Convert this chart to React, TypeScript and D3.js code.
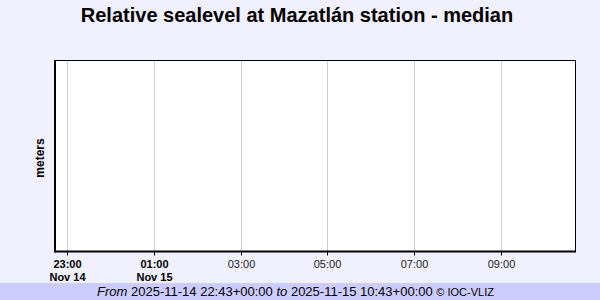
import React from "react";
import * as d3 from "d3";

const title = "Relative sealevel at Mazatlán station - median";
const yLabel = "meters";
const domainStart = "2025-11-14T22:43:00Z";
const domainEnd = "2025-11-15T10:43:00Z";
const tickTimes = [
  "2025-11-14T23:00:00Z",
  "2025-11-15T01:00:00Z",
  "2025-11-15T03:00:00Z",
  "2025-11-15T05:00:00Z",
  "2025-11-15T07:00:00Z",
  "2025-11-15T09:00:00Z",
];
const tickLabels = ["23:00", "01:00", "03:00", "05:00", "07:00", "09:00"];
const tickDates = ["Nov 14", "Nov 15", "", "", "", ""];
const footerFrom = "2025-11-14 22:43+00:00";
const footerTo = "2025-11-15 10:43+00:00";
const credit = "© IOC-VLIZ";

export default function App() {
  const W = 600, H = 300;
  const left = 55, right = 575, top = 60, bottom = 251.5;
  const x = d3
    .scaleUtc()
    .domain([new Date(domainStart), new Date(domainEnd)])
    .range([left, right]);
  const font = "'Liberation Sans', Arial, sans-serif";
  return (
    <svg
      width={W}
      height={H}
      style={{ position: "absolute", left: 0, top: 0, display: "block" }}
      fontFamily={font}
    >
      <rect x={0} y={0} width={W} height={H} fill="#f0f0ff" />
      <text x={297} y={22} textAnchor="middle" fontSize={20} fontWeight="bold" fill="#000">
        {title}
      </text>
      <rect x={left} y={top} width={right - left} height={bottom - top} fill="#fff" />
      {tickTimes.map((t, i) => {
        const px = Math.round(x(new Date(t))) + 0.5;
        return (
          <g key={t}>
            <line x1={px} x2={px} y1={top} y2={bottom} stroke="#cccccc" strokeWidth={1} />
            <line x1={px} x2={px} y1={bottom} y2={bottom + 4} stroke="#000" strokeWidth={1} />
            <text
              x={px}
              y={268}
              textAnchor="middle"
              fontSize={11}
              fontWeight={tickDates[i] ? "bold" : "normal"}
              fill={tickDates[i] ? "#000" : "#222"}
            >
              {tickLabels[i]}
            </text>
            {tickDates[i] && (
              <text x={px} y={281} textAnchor="middle" fontSize={11} fontWeight="bold" fill="#000">
                {tickDates[i]}
              </text>
            )}
          </g>
        );
      })}
      <line x1={left} x2={right} y1={top + 0.5} y2={top + 0.5} stroke="#000" strokeWidth={1} />
      <line x1={right + 0.5} x2={right + 0.5} y1={top} y2={bottom} stroke="#000" strokeWidth={1} />
      <line x1={left} x2={left} y1={top} y2={bottom + 1} stroke="#000" strokeWidth={2} />
      <line x1={left} x2={right + 1} y1={bottom} y2={bottom} stroke="#000" strokeWidth={2} />
      <text
        transform={`translate(44,158) rotate(-90)`}
        textAnchor="middle"
        fontSize={12}
        fontWeight="bold"
        fill="#000"
      >
        {yLabel}
      </text>
      <rect x={0} y={283} width={W} height={17} fill="#ccccff" />
      <text x={295.5} y={296} textAnchor="middle" fontSize={13} fill="#000">
        <tspan fontStyle="italic">From</tspan>
        <tspan> {footerFrom} </tspan>
        <tspan fontStyle="italic">to</tspan>
        <tspan> {footerTo} </tspan>
        <tspan fontSize={11}>{credit}</tspan>
      </text>
    </svg>
  );
}
